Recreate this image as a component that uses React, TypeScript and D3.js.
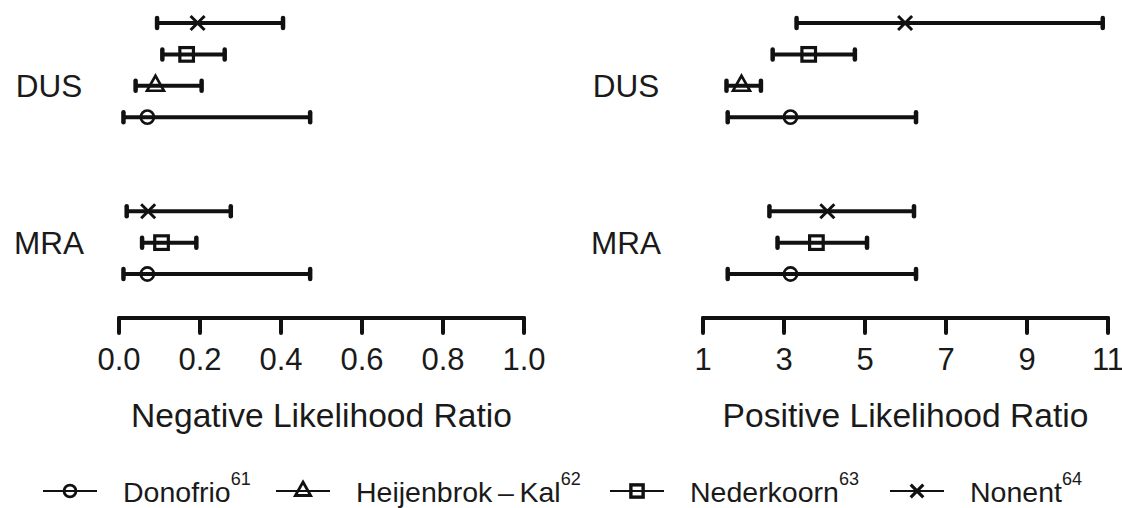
import React from "react";
import * as d3 from "d3";

// ---------- data ----------
const tests = ["DUS", "MRA"];
const studies = ["Donofrio", "Heijenbrok\u2009\u2013\u2009Kal", "Nederkoorn", "Nonent"];
const studyRefs = ["61", "62", "63", "64"];
const markers = ["circle", "triangle", "square", "cross"];

// [estimate, lower, upper]; null = not reported
const nlrDUS = [[0.07, 0.011, 0.472], [0.09, 0.041, 0.204], [0.167, 0.107, 0.261], [0.194, 0.094, 0.405]];
const nlrMRA = [[0.07, 0.011, 0.472], null, [0.105, 0.057, 0.191], [0.072, 0.019, 0.276]];
const plrDUS = [[3.16, 1.61, 6.26], [1.95, 1.58, 2.43], [3.61, 2.72, 4.75], [5.99, 3.31, 10.87]];
const plrMRA = [[3.16, 1.61, 6.26], null, [3.8, 2.84, 5.05], [4.07, 2.64, 6.21]];

const nlrTicks = [0, 0.2, 0.4, 0.6, 0.8, 1.0];
const plrTicks = [1, 3, 5, 7, 9, 11];
const nlrTitle = "Negative Likelihood Ratio";
const plrTitle = "Positive Likelihood Ratio";

// ---------- layout ----------
const W = 1122;
const H = 508;
const FONT = "'Liberation Sans', Arial, Helvetica, sans-serif";
const INK = "#111";
const TXT = "#1a1a1a";

const yRow = d3.scaleLinear().domain([0, 8]).range([23, 274]);
const groupGap = 2;

type CI = number[] | null;

function buildRows(dus: CI[], mra: CI[]) {
  const groups = [dus, mra];
  const rows: { row: number; study: number; ci: number[] }[] = [];
  const labelRows: number[] = [];
  let r = 0;
  groups.forEach((g) => {
    const present = g.map((ci, i) => ({ ci, i })).filter((d) => d.ci !== null).reverse();
    const start = r;
    present.forEach((d) => {
      rows.push({ row: r, study: d.i, ci: d.ci as number[] });
      r += 1;
    });
    labelRows.push(r - 2 >= start ? r - 2 : start);
    r += groupGap;
  });
  return { rows, labelRows };
}

function Marker({ type, x, y, s = 1, sw = 2.6 }: { type: string; x: number; y: number; s?: number; sw?: number }) {
  if (type === "circle")
    return <circle cx={x} cy={y} r={6.6 * s} fill="none" stroke={INK} strokeWidth={sw} />;
  if (type === "triangle") {
    const w = 8.5 * s;
    const top = y - 10 * s;
    const bot = y + 5 * s;
    return <path d={`M${x},${top}L${x + w},${bot}L${x - w},${bot}Z`} fill="none" stroke={INK} strokeWidth={sw} strokeLinejoin="miter" />;
  }
  if (type === "square") {
    const h = 6.8 * s;
    return <rect x={x - h} y={y - h} width={2 * h} height={2 * h} fill="none" stroke={INK} strokeWidth={sw + 0.6} />;
  }
  const h = 7 * s;
  return (
    <path d={`M${x - h},${y - h}L${x + h},${y + h}M${x - h},${y + h}L${x + h},${y - h}`} stroke={INK} strokeWidth={sw + 0.4} fill="none" />
  );
}

function Panel({
  dus, mra, domain, ticks, range, labelX, title, fmt,
}: {
  dus: CI[]; mra: CI[]; domain: number[]; ticks: number[]; range: number[]; labelX: number; title: string; fmt: (v: number) => string;
}) {
  const x = d3.scaleLinear().domain(domain).range(range);
  const { rows, labelRows } = buildRows(dus, mra);
  const axisY = 318;
  return (
    <g>
      {tests.map((t, i) => (
        <text key={t} x={labelX} y={yRow(labelRows[i]) + 11.3} textAnchor="middle" fontSize={31.5} fill={TXT} fontFamily={FONT}>
          {t}
        </text>
      ))}
      {rows.map((d, i) => {
        const y = yRow(d.row);
        const [est, lo, hi] = d.ci;
        return (
          <g key={i}>
            <line x1={x(lo)} x2={x(hi)} y1={y} y2={y} stroke={INK} strokeWidth={4} />
            <line x1={x(lo)} x2={x(lo)} y1={y - 5} y2={y + 5} stroke={INK} strokeWidth={4.5} strokeLinecap="round" />
            <line x1={x(hi)} x2={x(hi)} y1={y - 5} y2={y + 5} stroke={INK} strokeWidth={4.5} strokeLinecap="round" />
            <Marker type={markers[d.study]} x={x(est)} y={y} />
          </g>
        );
      })}
      <line x1={x(domain[0])} x2={x(domain[1])} y1={axisY} y2={axisY} stroke={INK} strokeWidth={4} strokeLinecap="round" />
      {ticks.map((t) => (
        <g key={t}>
          <line x1={x(t)} x2={x(t)} y1={axisY} y2={axisY + 15} stroke={INK} strokeWidth={4} strokeLinecap="round" />
          <text x={x(t)} y={370} textAnchor="middle" fontSize={31} fill={TXT} fontFamily={FONT}>
            {fmt(t)}
          </text>
        </g>
      ))}
      <text x={(range[0] + range[1]) / 2} y={427} textAnchor="middle" fontSize={33.6} fill={TXT} fontFamily={FONT}>
        {title}
      </text>
    </g>
  );
}

const legendLineX = [43, 276, 610, 890];

export default function App() {
  return (
    <svg width={W} height={H} style={{ position: "absolute", left: 0, top: 0, background: "#fff" }}>
      <rect width={W} height={H} fill="#fff" />
      <Panel dus={nlrDUS} mra={nlrMRA} domain={[0, 1]} ticks={nlrTicks} range={[119, 524]} labelX={49} title={nlrTitle} fmt={d3.format(".1f")} />
      <Panel dus={plrDUS} mra={plrMRA} domain={[1, 11]} ticks={plrTicks} range={[703, 1108]} labelX={626} title={plrTitle} fmt={d3.format("d")} />
      {studies.map((s, i) => {
        const lx = legendLineX[i];
        const ly = 491;
        return (
          <g key={s}>
            <line x1={lx} x2={lx + 54} y1={ly} y2={ly} stroke={INK} strokeWidth={2} />
            <Marker type={markers[i]} x={lx + 27} y={ly} s={0.9} sw={2.8} />
            <text x={lx + 80} y={502} fontSize={28.5} fill={TXT} fontFamily={FONT}>
              {s}
              <tspan fontSize={18} dy={-17}>{studyRefs[i]}</tspan>
            </text>
          </g>
        );
      })}
    </svg>
  );
}
